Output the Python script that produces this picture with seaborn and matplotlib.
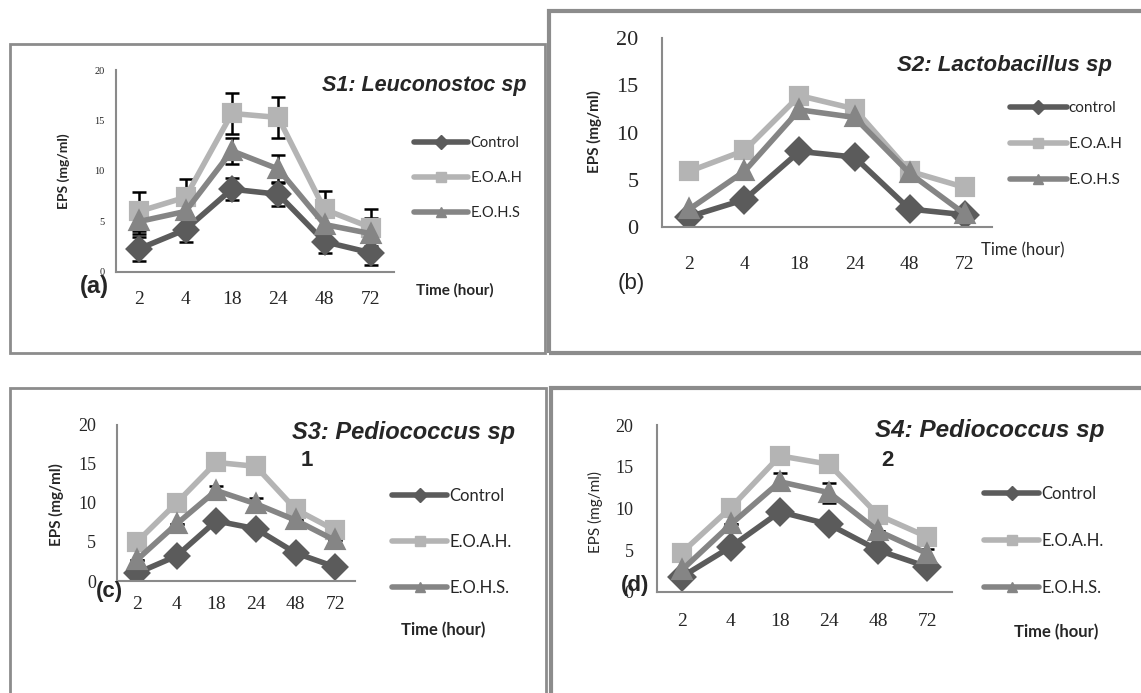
import numpy as np
import pandas as pd
import matplotlib
matplotlib.use('Agg')
import matplotlib.pyplot as plt
import seaborn as sns
from matplotlib.lines import Line2D
from matplotlib.patches import Rectangle

# values (EPS mg/ml)
times = ['2', '4', '18', '24', '48', '72']

a_control = [2.3, 4.2, 8.2, 7.7, 3.0, 1.9]
a_eoah = [6.0, 7.4, 15.7, 15.3, 6.2, 4.4]
a_eohs = [5.0, 6.0, 12.0, 10.2, 4.7, 3.8]
a_control_err = [1.2, 1.2, 1.1, 1.2, 1.1, 1.2]
a_eoah_err = [1.9, 1.8, 2.0, 2.0, 1.8, 1.8]
a_eohs_err = [1.2, 1.3, 1.3, 1.4, 1.2, 1.5]

b_control = [1.1, 2.9, 8.0, 7.4, 1.9, 1.3]
b_eoah = [5.9, 8.1, 13.9, 12.5, 5.9, 4.2]
b_eohs = [1.9, 5.9, 12.4, 11.6, 5.7, 1.4]

c_control = [1.0, 3.2, 7.7, 6.7, 3.6, 1.8]
c_eoah = [5.0, 10.0, 15.2, 14.7, 9.2, 6.5]
c_eohs = [2.7, 7.3, 11.6, 9.9, 7.8, 5.2]
c_eohs_err = [0, 0, 0.6, 0.7, 0, 0]

d_control = [1.8, 5.4, 9.6, 8.1, 5.0, 3.0]
d_eoah = [4.7, 10.1, 16.3, 15.3, 9.2, 6.6]
d_eohs = [2.6, 8.1, 13.2, 11.9, 7.3, 4.6]
d_eohs_err = [0, 0, 1.0, 1.2, 0, 0.5]

labels_a = ['Control', 'E.O.A.H', 'E.O.H.S']
labels_b = ['control', 'E.O.A.H', 'E.O.H.S']
labels_cd = ['Control', 'E.O.A.H.', 'E.O.H.S.']

colors = ['#5b5b5b', '#b4b4b4', '#858585']
markers = ['D', 's', '^']

sns.set_style('white')
plt.rcParams['font.family'] = ['Liberation Sans', 'DejaVu Sans']

W, H = 1141, 693
fig = plt.figure(figsize=(W / 100, H / 100), dpi=100)


def box(x0, y0, x1, y1):
    return [x0 / W, 1 - y1 / H, (x1 - x0) / W, (y1 - y0) / H]


def ftext(x, y, s, **kw):
    kw.setdefault('va', 'center')
    fig.text(x / W, 1 - y / H, s, **kw)


# panel frames
for x0, y0, x1, y1, lw in [(10, 44, 545, 353, 2), (549, 11, 1150, 353, 3),
                           (10, 388, 546, 710, 2), (551, 388, 1150, 710, 3)]:
    fig.patches.append(Rectangle((x0 / W, 1 - y1 / H), (x1 - x0) / W, (y1 - y0) / H,
                                 transform=fig.transFigure, fill=False,
                                 edgecolor='#8c8c8c', lw=lw))


def panel(rect, series, labels, errs, ytick_size, ytick_pad, xtick_pad, ms, lw):
    ax = fig.add_axes(box(*rect))
    df = pd.DataFrame({
        'time': times * 3,
        'eps': series[0] + series[1] + series[2],
        'series': [labels[0]] * 6 + [labels[1]] * 6 + [labels[2]] * 6,
    })
    for i, lab in enumerate(labels):
        if errs[i] is not None:
            ax.errorbar(np.arange(6), series[i], yerr=errs[i], fmt='none',
                        ecolor='black', elinewidth=1.8, capsize=5, capthick=1.8,
                        zorder=1)
    sns.pointplot(data=df, x='time', y='eps', hue='series', order=times,
                  hue_order=labels, palette=colors, markers=markers,
                  errorbar=None, ax=ax, legend=False, markersize=ms, linewidth=lw)
    ax.set_ylim(0, 20)
    ax.set_xlim(-0.5, 5.5)
    ax.set_yticks([0, 5, 10, 15, 20])
    ax.set_xlabel('')
    ax.set_ylabel('')
    sns.despine(ax=ax)
    for sp in ['left', 'bottom']:
        ax.spines[sp].set_color('#8a8a8a')
        ax.spines[sp].set_linewidth(1.5)
    ax.tick_params(axis='y', length=5, width=1.3, color='#8a8a8a',
                   labelsize=ytick_size, pad=ytick_pad)
    ax.tick_params(axis='x', length=0, labelsize=14, pad=xtick_pad)
    for t in ax.get_xticklabels() + ax.get_yticklabels():
        t.set_fontfamily('Liberation Serif')
    return ax


def legend(ax, labels, x, y_top, fs, spacing, hlen):
    handles = [Line2D([], [], color=c, marker=m, lw=4, ms=7)
               for c, m in zip(colors, markers)]
    ax.legend(handles, labels, loc='upper left', bbox_to_anchor=(x / W, 1 - y_top / H),
              bbox_transform=fig.transFigure, frameon=False,
              labelspacing=spacing, handlelength=hlen, handletextpad=0.15,
              borderpad=0, borderaxespad=0, prop={'family': 'Lato', 'size': fs})


# (a)
ax_a = panel((116, 70, 394, 272), [a_control, a_eoah, a_eohs], labels_a,
             [a_control_err, a_eoah_err, a_eohs_err], 7.5, 3, 14, 11, 4)
legend(ax_a, labels_a, 414, 136, 10.5, 1.45, 3.7)
ftext(322, 85, 'S1: Leuconostoc sp', fontsize=15.5, style='italic', weight='bold')
ftext(80, 287, '(a)', fontsize=17, weight='bold')
ftext(416, 290, 'Time (hour)', fontsize=11, weight='bold', family='Lato')
ftext(64, 171, 'EPS (mg/ml)', fontsize=10, weight='bold', rotation=90, ha='center',
      family='Lato')

# (b)
ax_b = panel((662, 38, 992, 227), [b_control, b_eoah, b_eohs], labels_b,
             [None, None, None], 16, 12, 21, 12, 4)
legend(ax_b, labels_b, 1010, 101, 11, 1.45, 3.7)
ftext(897, 66, 'S2: Lactobacillus sp', fontsize=16, style='italic', weight='bold')
ftext(618, 284, '(b)', fontsize=16)
ftext(981, 250, 'Time (hour)', fontsize=12, family='Lato')
ftext(594, 132, 'EPS (mg/ml)', fontsize=11, weight='bold', rotation=90, ha='center',
      family='Lato')

# (c)
ax_c = panel((117, 425, 355, 581), [c_control, c_eoah, c_eohs], labels_cd,
             [None, None, c_eohs_err], 13, 10, 11, 11, 4)
legend(ax_c, labels_cd, 392, 488, 12, 1.8, 3.3)
ftext(292, 432, 'S3: Pediococcus sp', fontsize=17, style='italic', weight='bold')
ftext(301, 460, '1', fontsize=16, weight='bold')
ftext(96, 592, '(c)', fontsize=16, weight='bold')
ftext(401, 630, 'Time (hour)', fontsize=12, weight='bold', family='Lato')
ftext(56, 505, 'EPS (mg/ml)', fontsize=11, weight='bold', rotation=90, ha='center',
      family='Lato')

# (d)
ax_d = panel((657, 425, 952, 592), [d_control, d_eoah, d_eohs], labels_cd,
             [None, None, d_eohs_err], 13, 12, 15, 12, 4)
legend(ax_d, labels_cd, 984, 486, 12, 1.85, 3.3)
ftext(875, 430, 'S4: Pediococcus sp', fontsize=17.5, style='italic', weight='bold')
ftext(881, 460, '2', fontsize=16, weight='bold')
ftext(621, 586, '(d)', fontsize=16, weight='bold')
ftext(1014, 632, 'Time (hour)', fontsize=12, weight='bold', family='Lato')
ftext(595, 512, 'EPS (mg/ml)', fontsize=11, rotation=90, ha='center', family='Lato')

fig.savefig('out.png', dpi=100)
